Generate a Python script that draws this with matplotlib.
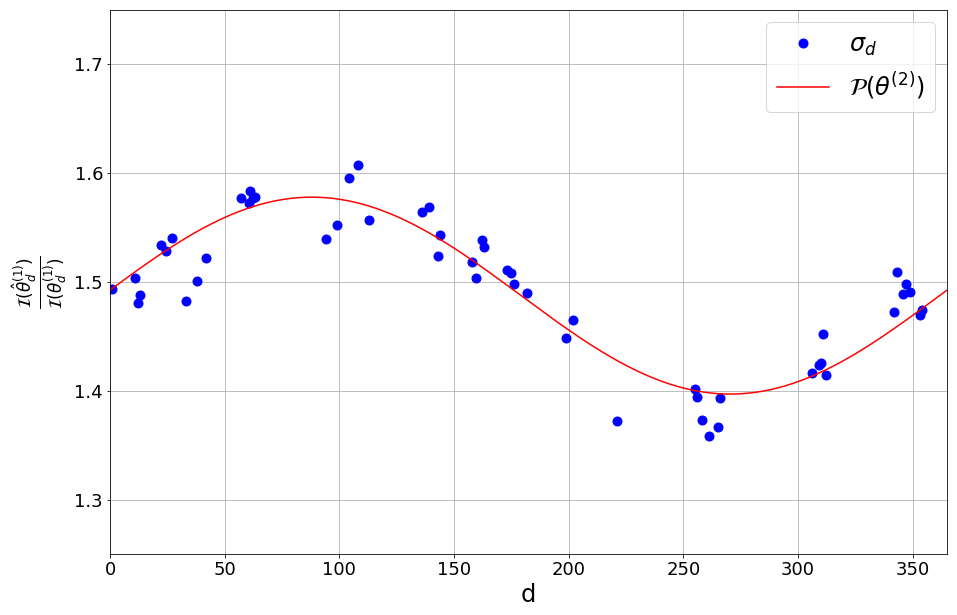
import numpy as np
import matplotlib
matplotlib.use("Agg")
import matplotlib.pyplot as plt

days = [1.0, 11.0, 12.3, 13.2, 22.4, 24.3, 27.2, 33.3, 38.1, 42.0,
        57.2, 60.5, 61.2, 62.2, 63.2, 94.3, 99.1, 104.3, 108.2, 113.0,
        136.1, 139.2, 143.1, 144.0, 157.9, 159.4, 162.3, 163.1, 173.0, 174.9,
        176.2, 181.8, 198.9, 201.8, 221.1, 255.1, 256.0, 258.2, 261.2, 265.1,
        266.0, 306.0, 309.0, 309.9, 310.8, 312.4, 341.8, 343.0, 345.8, 347.1,
        349.0, 353.2, 354.1]
ratio = [1.4933, 1.5034, 1.4804, 1.4880, 1.5338, 1.5288, 1.5403, 1.4822, 1.5006, 1.5218,
         1.5771, 1.5725, 1.5836, 1.5770, 1.5777, 1.5394, 1.5523, 1.5956, 1.6076, 1.5569,
         1.5642, 1.5688, 1.5237, 1.5433, 1.5182, 1.5034, 1.5387, 1.5320, 1.5108, 1.5080,
         1.4979, 1.4896, 1.4481, 1.4650, 1.3725, 1.4014, 1.3947, 1.3735, 1.3587, 1.3670,
         1.3937, 1.4161, 1.4241, 1.4253, 1.4518, 1.4149, 1.4724, 1.5089, 1.4887, 1.4979,
         1.4905, 1.4693, 1.4742]

# periodic model parameters (mean, amplitude, day of peak, period)
model_mean = 1.4875
model_amp = 0.0905
model_peak_day = 88.0
model_period = 365.0

xticks = [0, 50, 100, 150, 200, 250, 300, 350]
yticks = [1.3, 1.4, 1.5, 1.6, 1.7]

fig = plt.figure(figsize=(957 / 72, 615 / 72), dpi=72)
ax = fig.add_axes([0.115, 0.0992, 0.8746, 0.8845])

ax.plot(days, ratio, 'o', color='blue', markersize=9, label=r'$\sigma_d$')
dgrid = np.linspace(0, 365, 500)
curve = model_mean + model_amp * np.cos(2 * np.pi * (dgrid - model_peak_day) / model_period)
ax.plot(dgrid, curve, '-', color='red', linewidth=1.5, label=r'$\mathcal{P}(\theta^{(2)})$')

ax.set_xlim(0, 365)
ax.set_ylim(1.25, 1.75)
ax.set_xticks(xticks)
ax.set_yticks(yticks)
ax.tick_params(labelsize=18)
ax.grid(True, color='#b0b0b0', linewidth=0.8)
ax.set_axisbelow(True)
ax.set_xlabel('d', fontsize=24, labelpad=4)
ax.set_ylabel(r'$\frac{\mathcal{I}(\hat{\theta}_d^{(1)})}{\mathcal{I}(\theta_d^{(1)})}$', fontsize=24, labelpad=4)
ax.legend(loc='upper right', fontsize=24, numpoints=1, borderpad=0.45, handlelength=2.2)

fig.savefig('out.png', dpi=72)
